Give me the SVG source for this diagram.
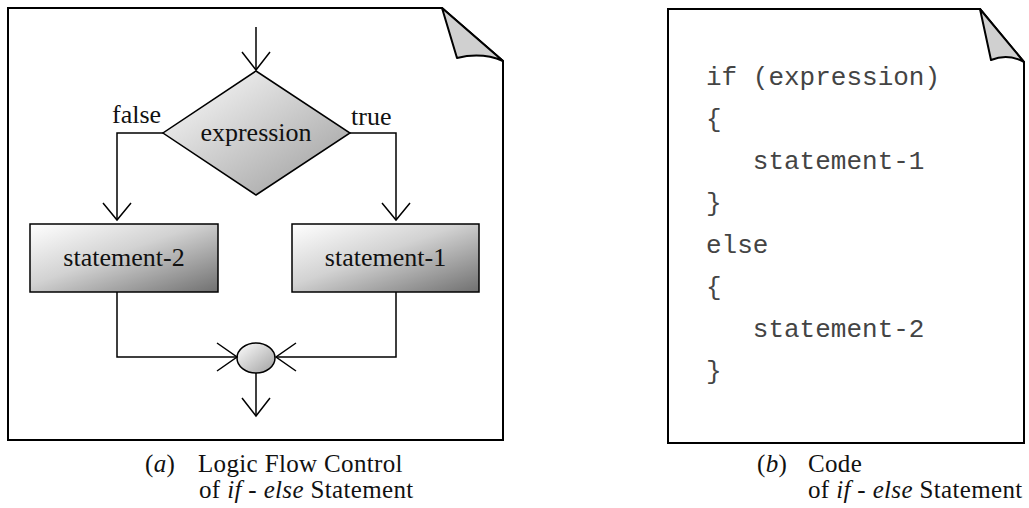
<svg xmlns="http://www.w3.org/2000/svg" width="1029" height="508" viewBox="0 0 1029 508">
  <style>
    .page { fill: #ffffff; stroke: #000; stroke-width: 2; stroke-linejoin: miter; }
    .fold { fill: #d0d0d0; stroke: #000; stroke-width: 2; stroke-linejoin: round; }
    .shape { stroke: #000; stroke-width: 1.5; }
    .wire { fill: none; stroke: #000; stroke-width: 1.5; }
    .serif { font-family: "Liberation Serif", "Times New Roman", serif; font-size: 26px; fill: #111; }
    .caption { font-family: "Liberation Serif", "Times New Roman", serif; font-size: 25px; letter-spacing: 0.35px; fill: #111; }
    .code { font-family: "Liberation Mono", "Courier New", monospace; font-size: 26px; fill: #444; white-space: pre; }
  </style>
  <defs>
    <linearGradient id="gDiamond" x1="0" y1="0" x2="1" y2="1">
      <stop offset="0" stop-color="#ffffff"/>
      <stop offset="1" stop-color="#9a9a9a"/>
    </linearGradient>
    <linearGradient id="gBox" x1="0" y1="0" x2="1" y2="1">
      <stop offset="0" stop-color="#ffffff"/>
      <stop offset="0.45" stop-color="#d2d2d2"/>
      <stop offset="1" stop-color="#707070"/>
    </linearGradient>
    <linearGradient id="gJoin" x1="0" y1="0" x2="1" y2="1">
      <stop offset="0" stop-color="#ffffff"/>
      <stop offset="1" stop-color="#a0a0a0"/>
    </linearGradient>
  </defs>

  <!-- left sheet: flow chart -->
  <g id="sheet-flow">
    <path class="page" d="M8,8 H442 L503,61 V440 H8 Z"/>
    <path class="fold" d="M442,8 L503,61 Q482,52 457,58 Z"/>
  </g>

  <g id="node-expression">
    <polygon class="shape" fill="url(#gDiamond)" points="256,71 350,133 256,195 163,133"/>
    <text class="serif" x="256" y="141" text-anchor="middle">expression</text>
  </g>

  <g id="node-statement-2">
    <rect class="shape" fill="url(#gBox)" x="30" y="224" width="188" height="68"/>
    <text class="serif" x="124" y="266" text-anchor="middle">statement-2</text>
  </g>

  <g id="node-statement-1">
    <rect class="shape" fill="url(#gBox)" x="292" y="224" width="187" height="68"/>
    <text class="serif" x="385.5" y="266" text-anchor="middle">statement-1</text>
  </g>

  <g id="node-join">
    <ellipse class="shape" fill="url(#gJoin)" cx="256" cy="358" rx="19" ry="15"/>
  </g>

  <g id="connectors">
    <!-- entry -->
    <path class="wire" d="M256,27 V70"/>
    <path class="wire" d="M242,52 L256,70 L270,52"/>
    <!-- false branch -->
    <path class="wire" d="M163,133 H117 V220"/>
    <path class="wire" d="M103,203 L117,220 L131,203"/>
    <text class="serif" x="112" y="123">false</text>
    <!-- true branch -->
    <path class="wire" d="M350,133 H396 V220"/>
    <path class="wire" d="M382,203 L396,220 L410,203"/>
    <text class="serif" x="351" y="125">true</text>
    <!-- merge from statement-2 -->
    <path class="wire" d="M117,292 V357 H237"/>
    <path class="wire" d="M217,343 L237,357 L217,371"/>
    <!-- merge from statement-1 -->
    <path class="wire" d="M396,292 V357 H276"/>
    <path class="wire" d="M296,343 L276,357 L296,371"/>
    <!-- exit -->
    <path class="wire" d="M256,373 V416"/>
    <path class="wire" d="M242,398 L256,416 L270,398"/>
  </g>

  <g id="caption-a">
    <text class="caption" x="145" y="472">(<tspan font-style="italic">a</tspan>)<tspan x="198">Logic Flow Control</tspan><tspan x="199" dy="26">of <tspan font-style="italic">if</tspan> - <tspan font-style="italic">else</tspan> Statement</tspan></text>
  </g>

  <!-- right sheet: source code -->
  <g id="sheet-code">
    <path class="page" d="M668,9 H980 L1024,62 V443 H668 Z"/>
    <path class="fold" d="M980,9 L1024,62 Q1008,53 991,60 Z"/>
    <text class="code" x="706" y="85">if (expression)</text>
    <text class="code" x="706" y="127">{</text>
    <text class="code" x="706" y="169">   statement-1</text>
    <text class="code" x="706" y="211">}</text>
    <text class="code" x="706" y="253">else</text>
    <text class="code" x="706" y="295">{</text>
    <text class="code" x="706" y="337">   statement-2</text>
    <text class="code" x="706" y="379">}</text>
  </g>

  <g id="caption-b">
    <text class="caption" x="757" y="472">(<tspan font-style="italic">b</tspan>)<tspan x="808">Code</tspan><tspan x="808" dy="26">of <tspan font-style="italic">if</tspan> - <tspan font-style="italic">else</tspan> Statement</tspan></text>
  </g>
</svg>
